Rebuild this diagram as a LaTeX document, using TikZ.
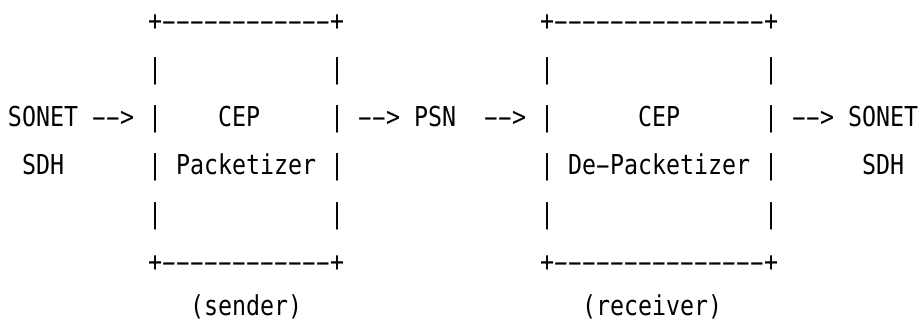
\documentclass[tikz,border=0pt]{standalone}
\usepackage{fontspec}
\usepackage{graphicx}
\newfontfamily\asciifont[FakeStretch=0.85]{DejaVu Sans Mono}
\newcommand\hy{\makebox[14pt]{\scalebox{1.9}[1]{-}}}
\tikzset{
  tx/.style={anchor=base west, inner sep=0pt, outer sep=0pt, text=black,
    font=\asciifont\fontsize{27.4pt}{30pt}\selectfont}
}
\newcommand\cell[5][0]{\node[tx] (#4) at ({8+14*#2},{31+48*#3-#1}) {#5};}
\begin{document}
\begin{tikzpicture}[x=1pt,y=-1pt]
\useasboundingbox (0,0) rectangle (920,323);
% row 0: top borders
\cell{10}{0}{topA}{+\hy\hy\hy\hy\hy\hy\hy\hy\hy\hy\hy\hy+}
\cell{38}{0}{topB}{+\hy\hy\hy\hy\hy\hy\hy\hy\hy\hy\hy\hy\hy\hy\hy+}
% row 1
\cell{10}{1}{barAa}{|}
\cell{23}{1}{barAb}{|}
\cell{38}{1}{barAc}{|}
\cell{54}{1}{barAd}{|}
% row 2
\cell{0}{2}{sonetIn}{SONET}
\cell{6}{2}{arrA}{\hy\hy>}
\cell{10}{2}{barBa}{|}
\cell{15}{2}{cepA}{CEP}
\cell{23}{2}{barBb}{|}
\cell{25}{2}{arrB}{\hy\hy>}
\cell{29}{2}{psn}{PSN}
\cell{34}{2}{arrC}{\hy\hy>}
\cell{38}{2}{barBc}{|}
\cell{45}{2}{cepB}{CEP}
\cell{54}{2}{barBd}{|}
\cell{56}{2}{arrD}{\hy\hy>}
\cell{60}{2}{sonetOut}{SONET}
% row 3
\cell{1}{3}{sdhIn}{SDH}
\cell{10}{3}{barCa}{|}
\cell{12}{3}{pack}{Packetizer}
\cell{23}{3}{barCb}{|}
\cell{38}{3}{barCc}{|}
\cell{40}{3}{depack}{De\hy Packetizer}
\cell{54}{3}{barCd}{|}
\cell{61}{3}{sdhOut}{SDH}
% row 4
\cell{10}{4}{barDa}{|}
\cell{23}{4}{barDb}{|}
\cell{38}{4}{barDc}{|}
\cell{54}{4}{barDd}{|}
% row 5: bottom borders
\cell{10}{5}{botA}{+\hy\hy\hy\hy\hy\hy\hy\hy\hy\hy\hy\hy+}
\cell{38}{5}{botB}{+\hy\hy\hy\hy\hy\hy\hy\hy\hy\hy\hy\hy\hy\hy\hy+}
% row 6
\cell[4]{13}{6}{sender}{(sender)}
\cell[4]{41}{6}{receiver}{(receiver)}
\end{tikzpicture}
\end{document}
